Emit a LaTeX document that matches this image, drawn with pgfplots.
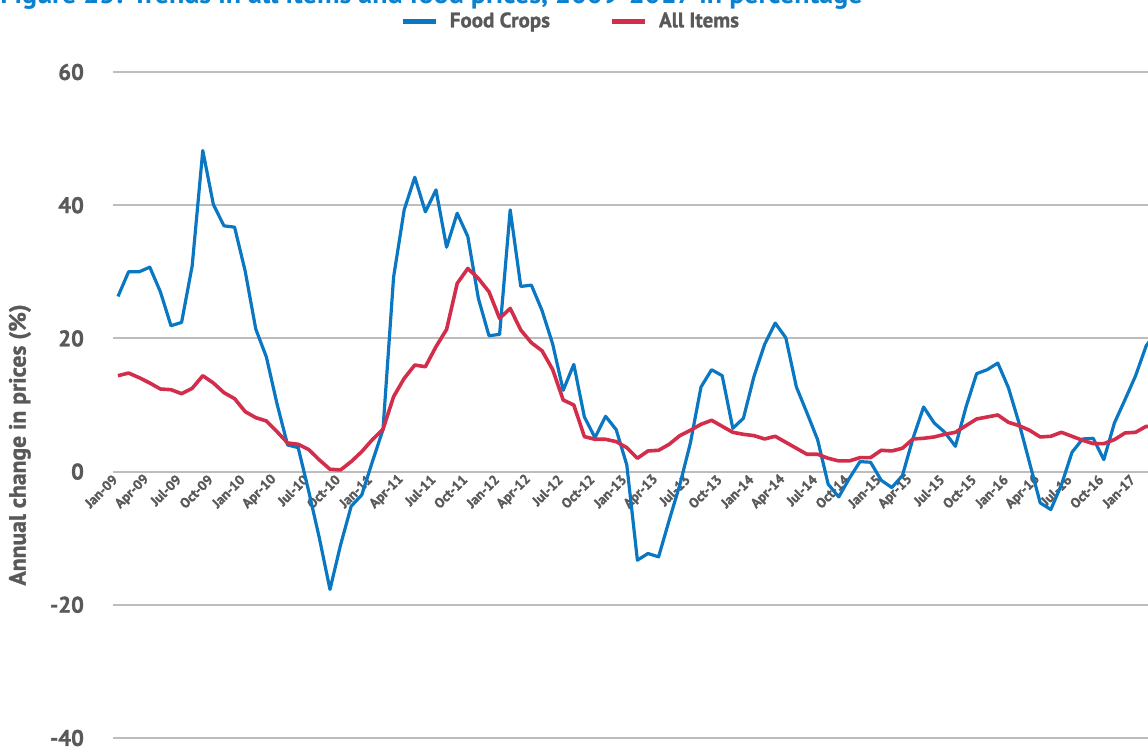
\documentclass[border=0pt]{standalone}
\usepackage{fontspec}
\setmainfont{PT Sans}[BoldFont={PT Sans Bold}]
\newfontfamily\bfam{PT Sans Bold}
\newfontfamily\bfamh{PT Sans Bold}[FakeBold=1.2]
\usepackage{pgfplots}
\usepackage{pgfplotstable}
\pgfplotsset{compat=1.18}
\definecolor{foodblue}{HTML}{0A77C2}
\definecolor{allred}{HTML}{D22D4B}
\definecolor{txtgray}{HTML}{595959}
\definecolor{gridgray}{HTML}{BDBDBD}
\definecolor{titleblue}{HTML}{0A82D0}

\pgfplotstableread{
i food all
0 26.3 14.4
1 30.0 14.8
2 30.0 14.1
3 30.7 13.3
4 27.0 12.4
5 21.9 12.3
6 22.4 11.7
7 30.9 12.5
8 48.2 14.4
9 40.1 13.3
10 36.9 11.85
11 36.7 10.95
12 30.1 9.0
13 21.4 8.1
14 17.2 7.6
15 10.2 6.0
16 4.0 4.3
17 3.6 4.1
18 -3.0 3.3
19 -10.0 1.75
20 -17.7 0.35
21 -11.0 0.25
22 -5.2 1.5
23 -3.5 3.0
24 1.5 4.8
25 6.3 6.35
26 29.2 11.25
27 39.3 14.0
28 44.2 16.0
29 39.0 15.75
30 42.3 18.75
31 33.7 21.35
32 38.8 28.25
33 35.3 30.5
34 26.0 29.0
35 20.4 27.0
36 20.6 23.0
37 39.3 24.5
38 27.8 21.25
39 28.0 19.35
40 24.2 18.15
41 19.2 15.35
42 12.2 10.75
43 16.1 10.0
44 8.2 5.25
45 5.1 4.85
46 8.3 4.85
47 6.3 4.5
48 1.0 3.6
49 -13.3 2.0
50 -12.3 3.1
51 -12.8 3.2
52 -7.3 4.1
53 -2.0 5.4
54 4.3 6.2
55 12.7 7.1
56 15.3 7.7
57 14.4 6.8
58 6.5 5.9
59 8.0 5.6
60 14.3 5.4
61 19.1 4.9
62 22.3 5.3
63 20.1 4.4
64 12.7 3.5
65 8.8 2.6
66 4.8 2.6
67 -1.9 2.0
68 -3.8 1.6
69 -1.0 1.6
70 1.5 2.1
71 1.4 2.1
72 -1.3 3.2
73 -2.4 3.1
74 -0.6 3.5
75 5.0 4.9
76 9.7 5.0
77 7.3 5.2
78 5.9 5.6
79 3.8 5.9
80 9.7 6.9
81 14.7 7.9
82 15.3 8.2
83 16.3 8.5
84 12.6 7.4
85 7.3 6.9
86 1.3 6.2
87 -4.7 5.2
88 -5.7 5.3
89 -2.0 5.9
90 2.9 5.3
91 4.9 4.7
92 5.0 4.2
93 1.8 4.2
94 7.3 4.8
95 10.8 5.8
96 14.4 5.9
97 18.9 6.8
98 21.0 6.5
}\prices

\begin{document}
\begin{tikzpicture}
\begin{axis}[
  scale only axis, width=517.5pt, height=333pt,
  xmin=-0.47, xmax=97.17, ymin=-40, ymax=60,
  axis x line*=middle, axis y line*=left,
  axis line style={draw=none},
  hide obscured x ticks=false, hide obscured y ticks=false,
  major tick length=0pt,
  ytick={-40,-20,0,20,40,60},
  yticklabels={-40,-20,0,20,40,60},
  ymajorgrids, grid style={gridgray, line width=1pt},
  xtick={0,3,...,96},
  xticklabels={Jan-09,Apr-09,Jul-09,Oct-09,Jan-10,Apr-10,Jul-10,Oct-10,Jan-11,Apr-11,Jul-11,Oct-11,Jan-12,Apr-12,Jul-12,Oct-12,Jan-13,Apr-13,Jul-13,Oct-13,Jan-14,Apr-14,Jul-14,Oct-14,Jan-15,Apr-15,Jul-15,Oct-15,Jan-16,Apr-16,Jul-16,Oct-16,Jan-17},
  xticklabel style={rotate=45, anchor=east, xshift=0.5pt, yshift=-1pt, font=\bfamh\fontsize{6.9}{8}\selectfont, text=txtgray},
  yticklabel style={font=\bfamh\fontsize{11.3}{13}\selectfont, text=txtgray, xshift=-11pt},
  ylabel={Annual change in prices (\%)},
  ylabel style={at={(axis description cs:-0.09,0.44)}, anchor=center, rotate=0, font=\bfamh\fontsize{11.8}{13}\selectfont, text=txtgray},
  legend style={at={(0.4435,1.076)}, anchor=center, draw=none, fill=none, legend columns=2,
    font=\bfamh\fontsize{10.5}{12}\selectfont, text=txtgray, inner sep=0pt,
    /tikz/every even column/.append style={column sep=28pt}},
  legend image code/.code={\draw[#1, line width=2.2pt, line cap=butt] (0pt,0pt) -- (16.5pt,0pt); \path (20.5pt,0pt);},
  line join=round,
]
\addplot[foodblue, line width=1.6pt, line join=round] table[x=i, y=food] {\prices};
\addlegendentry{Food Crops}
\addplot[allred, line width=1.8pt, line join=round] table[x=i, y=all] {\prices};
\addlegendentry{All Items}
\end{axis}
\node[anchor=base west, inner sep=0pt, text=titleblue, font=\bfam\fontsize{14}{16}\selectfont] at (-56.5pt,367.25pt) {Figure 23: Trends in all items and food prices, 2009-2017 in percentage};
\pgfresetboundingbox
\path[use as bounding box] (-56.5pt,-5.5pt) rectangle (517.5pt,369pt);
\end{tikzpicture}
\end{document}
